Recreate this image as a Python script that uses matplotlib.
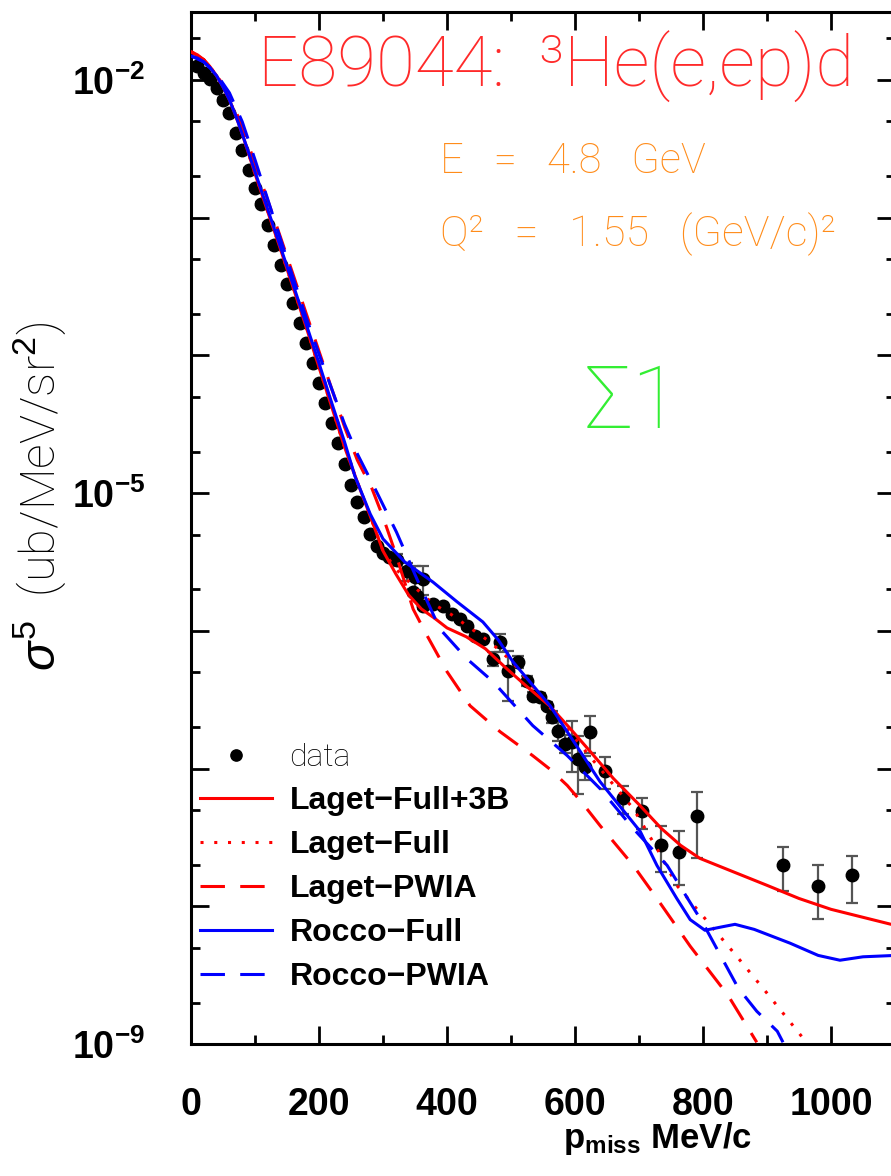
import matplotlib
matplotlib.use("Agg")
import matplotlib.pyplot as plt
from matplotlib.ticker import FixedLocator, MultipleLocator, NullFormatter
import numpy as np

plt.rcParams['mathtext.fontset'] = 'custom'
plt.rcParams['mathtext.rm'] = 'Liberation Sans'
plt.rcParams['mathtext.it'] = 'Liberation Sans:italic'
plt.rcParams['mathtext.bf'] = 'Liberation Sans:bold'
plt.rcParams['font.family'] = ['Liberation Sans', 'DejaVu Sans']

THIN = ['Roboto', 'DejaVu Sans']

# ---------------- data ----------------
data_p = [10, 20, 30, 40, 50, 60, 70, 80, 90, 100, 110, 120, 130, 140, 150,
          160, 170, 180, 190, 200, 210, 220, 230, 240, 250, 260, 270, 280, 290,
          300, 310, 322, 338, 350, 363, 347, 353, 363, 378, 394, 408, 420, 431,
          444, 456, 472, 483, 495, 511, 525, 534, 545, 556, 564, 573, 584, 595,
          605, 616, 623, 647, 675, 705, 734, 763, 791, 925, 980, 1033]
data_val = [1.26e-2, 1.12e-2, 1.02e-2, 8.75e-3, 7.17e-3, 5.77e-3, 4.13e-3,
            3.11e-3, 2.23e-3, 1.65e-3, 1.26e-3, 8.89e-4, 6.37e-4, 4.56e-4,
            3.27e-4, 2.38e-4, 1.71e-4, 1.22e-4, 8.75e-5, 6.27e-5, 4.49e-5,
            3.21e-5, 2.30e-5, 1.62e-5, 1.14e-5, 8.61e-6, 6.70e-6, 5.05e-6,
            4.13e-6, 3.67e-6, 3.44e-6, 3.27e-6, 2.72e-6, 2.46e-6, 2.38e-6,
            1.92e-6, 1.80e-6, 1.52e-6, 1.57e-6, 1.52e-6, 1.33e-6, 1.22e-6,
            1.09e-6, 9.20e-7, 8.75e-7, 6.27e-7, 8.31e-7, 5.13e-7, 5.96e-7,
            4.34e-7, 3.38e-7, 3.33e-7, 2.86e-7, 2.38e-7, 1.88e-7, 1.52e-7,
            1.57e-7, 1.18e-7, 1.03e-7, 1.85e-7, 9.68e-8, 6.07e-8, 4.88e-8,
            2.81e-8, 2.46e-8, 4.49e-8, 1.98e-8, 1.40e-8, 1.68e-8]
data_relerr = [0.03] * 31 + [0.10, 0.15, 0.20, 0.24, 0.05, 0.05, 0.05, 0.05,
               0.05, 0.05, 0.05, 0.05, 0.05, 0.05, 0.12, 0.15, 0.40, 0.10,
               0.08, 0.06, 0.06, 0.06, 0.10, 0.15, 0.15, 0.40, 0.45, 0.20,
               0.30, 0.26, 0.23, 0.25, 0.37, 0.42, 0.50, 0.35, 0.42, 0.37]

# Laget-Full+3B
lf3b_p = [0, 10, 20, 30, 40, 50, 60, 70, 80, 90, 100, 120, 140, 160, 180, 200,
          220, 240, 260, 280, 300, 320, 340, 360, 380, 400, 430, 460, 490, 525,
          560, 590, 625, 660, 700, 735, 765, 795, 850, 900, 950, 1000, 1050, 1100]
lf3b_val = [1.60e-2, 1.52e-2, 1.40e-2, 1.24e-2, 1.07e-2, 8.89e-3, 7.16e-3,
            5.48e-3, 4.06e-3, 2.91e-3, 2.08e-3, 1.10e-3, 5.86e-4, 3.06e-4,
            1.60e-4, 8.18e-5, 4.20e-5, 2.15e-5, 1.20e-5, 6.81e-6, 3.80e-6,
            2.59e-6, 1.82e-6, 1.44e-6, 1.24e-6, 1.05e-6, 9.06e-7, 7.41e-7,
            5.48e-7, 3.93e-7, 2.86e-7, 2.01e-7, 1.31e-7, 8.47e-8, 5.48e-8,
            3.67e-8, 2.77e-8, 2.23e-8, 1.76e-8, 1.42e-8, 1.14e-8, 9.51e-9,
            8.32e-9, 7.28e-9]

# Laget-Full
lf_p = [0, 10, 20, 30, 40, 50, 60, 70, 80, 90, 100, 120, 140, 160, 180, 200,
        220, 240, 260, 280, 300, 320, 347, 378, 405, 431, 467, 500, 550, 600,
        639, 691, 728, 759, 800, 850, 900, 960]
lf_val = [1.60e-2, 1.52e-2, 1.40e-2, 1.24e-2, 1.07e-2, 8.89e-3, 7.16e-3,
          5.48e-3, 4.06e-3, 2.91e-3, 2.08e-3, 1.10e-3, 5.86e-4, 3.06e-4,
          1.60e-4, 8.18e-5, 4.20e-5, 2.15e-5, 1.20e-5, 6.81e-6, 3.80e-6,
          2.81e-6, 2.12e-6, 1.57e-6, 1.33e-6, 1.09e-6, 8.32e-7, 6.07e-7,
          3.21e-7, 1.65e-7, 1.00e-7, 5.13e-8, 2.63e-8, 1.42e-8, 8.47e-9,
          4.49e-9, 2.34e-9, 1.05e-9]

# Laget-PWIA
lp_p = [0, 20, 40, 60, 80, 100, 120, 140, 160, 180, 200, 220, 240, 260, 283,
        300, 320, 347, 369, 400, 436, 483, 534, 562, 588, 613, 639, 691, 728,
        780, 839, 884]
lp_val = [1.60e-2, 1.40e-2, 1.09e-2, 7.66e-3, 4.56e-3, 2.46e-3, 1.33e-3,
          7.16e-4, 3.80e-4, 2.01e-4, 1.07e-4, 5.68e-5, 3.01e-5, 1.73e-5,
          1.07e-5, 6.70e-6, 3.61e-6, 1.44e-6, 9.20e-7, 5.05e-7, 2.86e-7,
          1.85e-7, 1.24e-7, 9.8e-8, 7.53e-8, 5.5e-8, 3.86e-8, 1.98e-8,
          1.14e-8, 5.13e-9, 2.26e-9, 1.03e-9]

# Rocco-Full
rf_p = [0, 10, 20, 30, 40, 50, 60, 70, 80, 90, 100, 120, 140, 160, 180, 200,
        220, 240, 256, 280, 300, 334, 378, 416, 456, 480, 503, 561, 600, 639,
        702, 728, 759, 780, 803, 830, 850, 880, 936, 980, 1014, 1050, 1100]
rf_val = [1.49e-2, 1.44e-2, 1.35e-2, 1.22e-2, 1.07e-2, 8.89e-3, 7.16e-3,
          5.48e-3, 4.06e-3, 2.96e-3, 2.15e-3, 1.14e-3, 6.07e-4, 3.21e-4,
          1.68e-4, 8.75e-5, 4.49e-5, 2.34e-5, 1.33e-5, 7.05e-6, 4.65e-6,
          3.16e-6, 2.26e-6, 1.62e-6, 1.16e-6, 8.6e-7, 5.96e-7, 2.86e-7,
          1.52e-7, 8.05e-8, 3.49e-8, 1.98e-8, 1.14e-8, 8.0e-9, 6.7e-9,
          7.1e-9, 7.4e-9, 6.8e-9, 5.4e-9, 4.4e-9, 4.06e-9, 4.3e-9, 4.4e-9]

# Rocco-PWIA
rp_p = [0, 20, 40, 60, 80, 100, 120, 140, 160, 180, 200, 220, 240, 260, 290,
        321, 353, 389, 431, 472, 534, 588, 639, 691, 744, 800, 855, 884, 916, 925]
rp_val = [1.49e-2, 1.35e-2, 1.10e-2, 8.05e-3, 4.97e-3, 2.63e-3, 1.35e-3,
          6.93e-4, 3.61e-4, 1.88e-4, 1.02e-4, 5.68e-5, 3.16e-5, 1.92e-5,
          1.02e-5, 5.21e-6, 2.38e-6, 1.03e-6, 6.27e-7, 4.27e-7, 2.05e-7,
          1.24e-7, 7.16e-8, 3.67e-8, 1.98e-8, 7.53e-9, 2.55e-9, 1.73e-9,
          1.24e-9, 1.03e-9]

# ---------------- figure ----------------
fig = plt.figure(figsize=(8.91, 11.76), dpi=100)
ax = fig.add_axes([0.2144, 0.1122, 0.7901, 0.8776])

dval = np.array(data_val)
eb = ax.errorbar(data_p, data_val, yerr=dval * np.array(data_relerr), fmt='o',
                 color='black', ms=9, ecolor='#555555', elinewidth=1.6,
                 capsize=4.5, capthick=1.6, zorder=2)

lw = 2.2
h1, = ax.plot(lf3b_p, lf3b_val, color='red', lw=lw, zorder=3)
h2, = ax.plot(lf_p, lf_val, color='red', lw=lw, ls=(0, (1, 3.5)), zorder=3)
h3, = ax.plot(lp_p, lp_val, color='red', lw=lw, ls=(0, (8, 5)), zorder=3)
h4, = ax.plot(rf_p, rf_val, color='blue', lw=lw, zorder=3)
h5, = ax.plot(rp_p, rp_val, color='blue', lw=lw, ls=(0, (8, 5)), zorder=3)

ax.set_yscale('log')
ax.set_xlim(0, 1100)
ax.set_ylim(1e-9, 3.11e-2)

# ticks
ax.xaxis.set_major_locator(MultipleLocator(200))
ax.xaxis.set_minor_locator(MultipleLocator(100))
ymaj = [1e-9, 1e-8, 1e-7, 1e-6, 1e-5, 1e-4, 1e-3, 1e-2]
ylab = [r'$\mathbf{10^{-9}}$', '', '', '', r'$\mathbf{10^{-5}}$', '', '', r'$\mathbf{10^{-2}}$']
ax.yaxis.set_major_locator(FixedLocator(ymaj))
ax.set_yticklabels(ylab)
ymin = []
for d in range(-9, -1):
    ymin += [2 * 10.0 ** d, 5 * 10.0 ** d]
ax.yaxis.set_minor_locator(FixedLocator(ymin))
ax.yaxis.set_minor_formatter(NullFormatter())

ax.tick_params(which='both', direction='in', top=True, right=True, width=2.0)
ax.tick_params(which='major', length=13)
ax.tick_params(which='minor', length=6.5)
ax.tick_params(axis='x', which='major', pad=31, labelsize=27)
ax.tick_params(axis='y', which='major', pad=33, labelsize=27)
for lab in ax.get_xticklabels():
    lab.set_fontweight('bold')
for s in ax.spines.values():
    s.set_linewidth(2.2)

ax.set_xlabel(r'$\mathbf{p_{miss}}$ $\mathbf{MeV/c}$', fontsize=25, labelpad=0)
ax.xaxis.set_label_coords(0.662, -0.074)

fig.text(40 / 891, 1 - 496 / 1176, r'$\sigma^{5}$  (ub/MeV/sr$^{2}$)',
         rotation=90, ha='center', va='center', fontsize=35,
         family=THIN, fontweight='light')

# annotations
fig.text(258 / 891, 1 - 87 / 1176, 'E89044:  \u00b3He(e,ep)d', color='#ff2a2a',
         fontsize=51, family=THIN, fontweight='light',
         va='baseline', ha='left')
fig.text(440 / 891, 1 - 173 / 1176, 'E   =   4.8   GeV', color='#ff8c1a',
         fontsize=30, family=THIN, fontweight='light',
         va='baseline', ha='left')
fig.text(440 / 891, 1 - 246 / 1176, 'Q\u00b2   =   1.55   (GeV/c)\u00b2', color='#ff8c1a',
         fontsize=31, family=THIN, fontweight='light',
         va='baseline', ha='left')
fig.text(585 / 891, 1 - 428 / 1176, '\u03a31', color='#33ee33',
         fontsize=63, family=THIN, fontweight='light',
         va='baseline', ha='left')

handles = [eb[0], h1, h2, h3, h4, h5]
labels = ['data', 'Laget\u2212Full+3B', 'Laget\u2212Full', 'Laget\u2212PWIA',
          'Rocco\u2212Full', 'Rocco\u2212PWIA']
leg = ax.legend(handles, labels, loc='upper left',
                bbox_to_anchor=(200 / 891, 1 - 743 / 1176),
                bbox_transform=fig.transFigure, frameon=False, fontsize=23,
                handlelength=2.25, handletextpad=0.55, labelspacing=0.44,
                borderpad=0, borderaxespad=0, markerscale=0.9)
for i, t in enumerate(leg.get_texts()):
    if i == 0:
        t.set_family(THIN)
        t.set_fontweight('light')
    else:
        t.set_fontweight('bold')

fig.savefig('out.png', dpi=100)
